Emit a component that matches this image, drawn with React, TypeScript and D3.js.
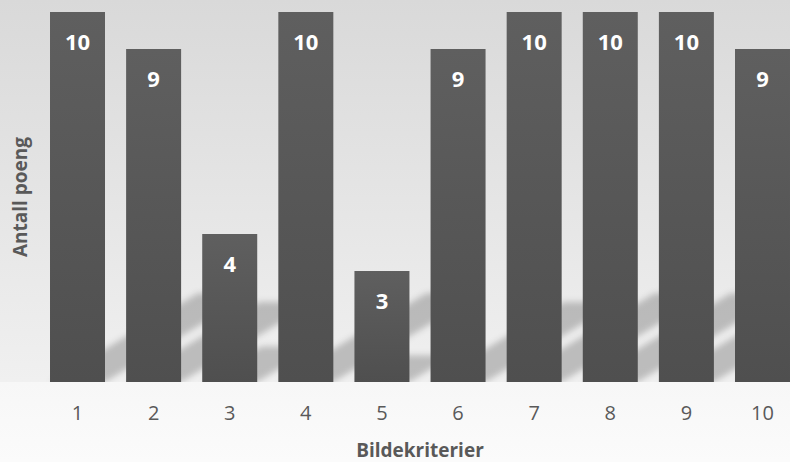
import React from "react";
import * as d3 from "d3";

const categories = ["1", "2", "3", "4", "5", "6", "7", "8", "9", "10"];
const points = [10, 9, 4, 10, 3, 9, 10, 10, 10, 9];
const xTitle = "Bildekriterier";
const yTitle = "Antall poeng";

const W = 790;
const H = 462;
const FONT = "'Open Sans', 'Liberation Sans', sans-serif";

export default function App() {
  const x = d3
    .scaleBand<string>()
    .domain(categories)
    .range([39.45, 800.55])
    .paddingInner(0.2774)
    .paddingOuter(0.1387);
  const y = d3.scaleLinear().domain([0, 10]).range([382, 12]);
  const base = y(0);

  // floor shadow cast up and to the right, length proportional to bar height
  const shadowPath = (v: number, cat: string) => {
    const x0 = x(cat)!;
    const x1 = x0 + x.bandwidth();
    const dy = 0.24 * (base - y(v));
    const dx = dy / 0.6;
    return d3.line()([
      [x0, base],
      [x1, base],
      [x1 + dx, base - dy],
      [x0 + dx, base - dy],
    ]) + "Z";
  };

  return (
    <svg
      width={W}
      height={H}
      style={{ position: "fixed", left: 0, top: 0, display: "block" }}
    >
      <defs>
        <linearGradient id="bg" x1="0" y1="0" x2="0" y2={H} gradientUnits="userSpaceOnUse">
          <stop offset="0" stopColor="#d9d9d9" />
          <stop offset={base / H} stopColor="#f0f0f0" />
          <stop offset={base / H} stopColor="#f7f7f7" />
          <stop offset="1" stopColor="#fbfbfb" />
        </linearGradient>
        <linearGradient id="bar" x1="0" y1="0" x2="0" y2="1">
          <stop offset="0" stopColor="#5f5f5f" />
          <stop offset="1" stopColor="#4f4f4f" />
        </linearGradient>
        <filter id="soft" x="-20%" y="-20%" width="140%" height="140%">
          <feGaussianBlur stdDeviation="3" />
        </filter>
        <clipPath id="plot">
          <rect x={0} y={0} width={W} height={base} />
        </clipPath>
      </defs>

      <rect x={0} y={0} width={W} height={H} fill="url(#bg)" />

      <g clipPath="url(#plot)">
        <g filter="url(#soft)">
          {points.map((v, i) => (
            <path key={i} d={shadowPath(v, categories[i])} fill="#000" fillOpacity={0.21} />
          ))}
        </g>
      </g>

      {points.map((v, i) => (
        <rect
          key={i}
          x={x(categories[i])}
          y={y(v)}
          width={x.bandwidth()}
          height={base - y(v)}
          fill="url(#bar)"
        />
      ))}

      {points.map((v, i) => (
        <text
          key={i}
          x={x(categories[i])! + x.bandwidth() / 2}
          y={y(v) + 38}
          textAnchor="middle"
          fill="#ffffff"
          fontFamily={FONT}
          fontWeight="bold"
          fontSize={22}
        >
          {v}
        </text>
      ))}

      {categories.map((c) => (
        <text
          key={c}
          x={x(c)! + x.bandwidth() / 2}
          y={420}
          textAnchor="middle"
          fill="#595959"
          fontFamily={FONT}
          fontSize={20}
        >
          {c}
        </text>
      ))}

      <text
        x={420}
        y={457}
        textAnchor="middle"
        fill="#595959"
        fontFamily={FONT}
        fontWeight="bold"
        fontSize={19}
      >
        {xTitle}
      </text>

      <text
        transform={`translate(27,${(y(0) + y(10)) / 2}) rotate(-90)`}
        textAnchor="middle"
        fill="#595959"
        fontFamily={FONT}
        fontWeight="bold"
        fontSize={19}
      >
        {yTitle}
      </text>
    </svg>
  );
}
